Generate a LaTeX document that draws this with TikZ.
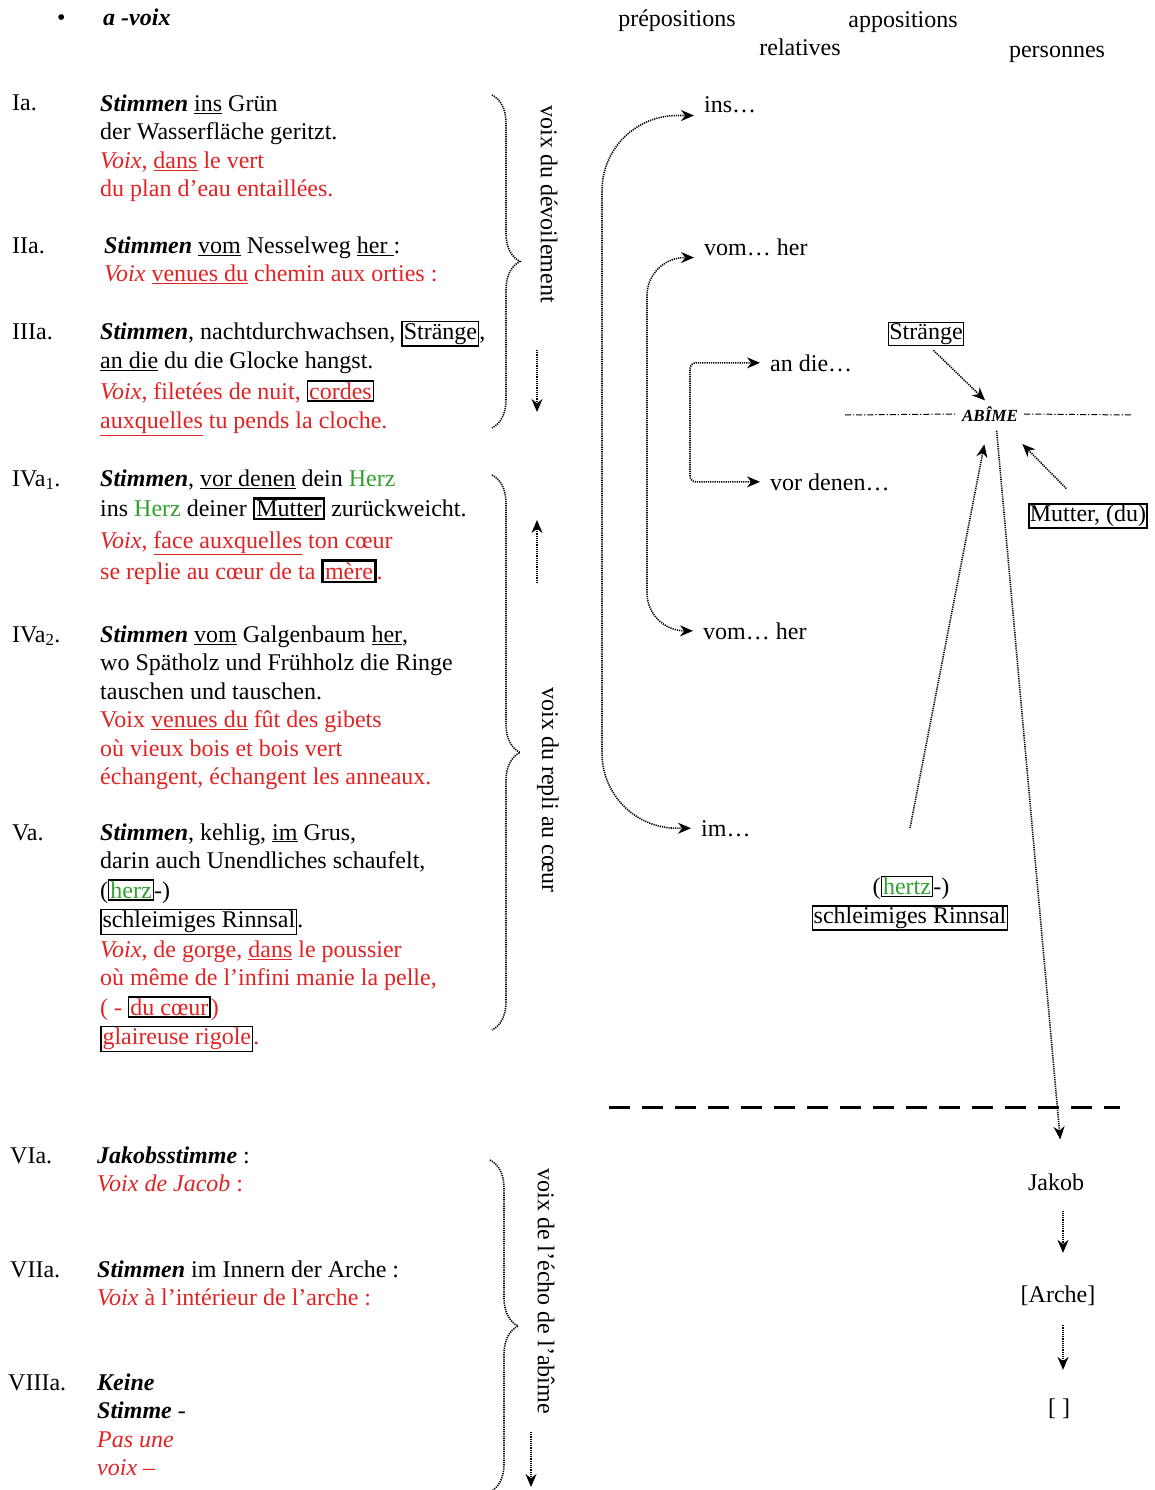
\documentclass[tikz,border=0pt]{standalone}
\usepackage{fontspec}
\setmainfont{Liberation Serif}
\usepackage{xcolor}
\usetikzlibrary{arrows.meta,decorations.pathreplacing}

\definecolor{vred}{RGB}{225,35,35}
\definecolor{vgreen}{RGB}{50,160,50}
\newcommand{\bi}[1]{\textbf{\textit{#1}}}
\newcommand{\fr}[1]{\textcolor{vred}{#1}}
\newcommand{\boxw}[2][black]{{\setlength{\fboxsep}{1pt}\setlength{\fboxrule}{1.3pt}\color{black}\fbox{\color{#1}#2}}}
\newcommand{\boxwb}[2][black]{{\setlength{\fboxsep}{1pt}\setlength{\fboxrule}{2.6pt}\color{black}\fbox{\color{#1}#2}}}

\begin{document}
\begin{tikzpicture}[x=1pt, y=-1pt,
  every node/.style={inner sep=3pt},
  font=\fontsize{24}{28.5}\selectfont,
  lbl/.style={anchor=base west, inner sep=0pt},
  stanza/.style={anchor=north west, align=left, inner sep=0pt},
  colhead/.style={anchor=base, inner sep=0pt},
  rtxt/.style={anchor=base west, inner xsep=10pt, inner ysep=2pt},
  drehtext/.style={rotate=-90, inner sep=0pt},
  kasten/.style={draw, line width=1.3pt, inner sep=1pt},
  punkte/.style={line width=1.6pt, dash pattern=on 1.2pt off 1pt},
  klammer/.style={punkte, decorate, decoration={brace, amplitude=28pt}},
  pfeil/.style={punkte, -{Stealth[length=13pt, width=11pt]}},
  doppel/.style={punkte, {Stealth[length=13pt, width=11pt]}-{Stealth[length=13pt, width=11pt]}},
  strichpunkt/.style={line width=1pt, dash pattern=on 6pt off 2pt on 1.2pt off 2pt},
  trenn/.style={line width=3pt, dash pattern=on 21pt off 12pt}]
\useasboundingbox (0,0) rectangle (1155,1490);
\fill[white] (0,0) rectangle (1155,1490);

% title
\node[lbl] (bullet) at (57,26) {•};
\node[lbl] (titel) at (103,26) {\bi{a -voix}};

% left column: stanzas
\node[lbl] (l1) at (12,111) {Ia.};
\node[stanza] (s1) at (100,91) {\strut\bi{Stimmen} \underline{ins} Grün\\
der Wasserfläche geritzt.\\
\fr{\textit{Voix}, \underline{dans} le vert}\\
\fr{du plan d’eau entaillées.}};

\node[lbl] (l2) at (12,253) {IIa.};
\node[stanza] (s2) at (104,233) {\strut\bi{Stimmen} \underline{vom} Nesselweg \underline{her }:\\
\fr{\textit{Voix} \underline{venues du} chemin aux orties :}};

\node[lbl] (l3) at (12,339) {IIIa.};
\node[stanza] (s3) at (100,319) {\strut\bi{Stimmen}, nachtdurchwachsen, \boxw{Stränge},\\[1pt]
\underline{an die} du die Glocke hangst.\\[2pt]
\fr{\textit{Voix}, filetées de nuit, \boxw[vred]{cordes}}\\[1pt]
\fr{\underline{auxquelles} tu pends la cloche.}};

\node[lbl] (l41) at (12,486) {IVa\textsubscript{1}.};
\node[stanza] (s41) at (100,466) {\strut\bi{Stimmen}, \underline{vor denen} dein \textcolor{vgreen}{Herz}\\[2pt]
ins \textcolor{vgreen}{Herz} deiner \boxwb{Mutter} zurückweicht.\\[3pt]
\fr{\textit{Voix}, \underline{face auxquelles} ton cœur}\\[3pt]
\fr{se replie au cœur de ta \boxwb[vred]{mère}.}};

\node[lbl] (l42) at (12,642) {IVa\textsubscript{2}.};
\node[stanza] (s42) at (100,622) {\strut\bi{Stimmen} \underline{vom} Galgenbaum \underline{her},\\
wo Spätholz und Frühholz die Ringe\\
tauschen und tauschen.\\
\fr{Voix \underline{venues du} fût des gibets}\\
\fr{où vieux bois et bois vert}\\
\fr{échangent, échangent les anneaux.}};

\node[lbl] (l5) at (12,840) {Va.};
\node[stanza] (s5) at (100,820) {\strut\bi{Stimmen}, kehlig, \underline{im} Grus,\\
darin auch Unendliches schaufelt,\\[1pt]
(\boxw[vgreen]{herz}-)\\[1pt]
\boxw{schleimiges Rinnsal}.\\[1pt]
\fr{\textit{Voix}, de gorge, \underline{dans} le poussier}\\
\fr{où même de l’infini manie la pelle,}\\[1pt]
\fr{( - \boxw[vred]{du cœur})}\\[1pt]
\boxw[vred]{glaireuse rigole}\fr{.}};

\node[lbl] (l6) at (10,1163) {VIa.};
\node[stanza] (s6) at (97,1143) {\strut\bi{Jakobsstimme} :\\
\fr{\textit{Voix de Jacob} :}};

\node[lbl] (l7) at (10,1277) {VIIa.};
\node[stanza] (s7) at (97,1257) {\strut\bi{Stimmen} im Innern der Arche :\\
\fr{\textit{Voix} à l’intérieur de l’arche :}};

\node[lbl] (l8) at (8,1390) {VIIIa.};
\node[stanza] (s8) at (97,1370) {\strut\bi{Keine}\\
\bi{Stimme} -\\
\fr{\textit{Pas une}}\\
\fr{\textit{voix –}}};

% braces and rotated labels
\draw[klammer] (492,95) -- (492,428);
\draw[klammer] (492,475) -- (492,1030);
\draw[klammer] (490,1160) -- (490,1492);
\node[drehtext] (devoil) at (549,204) {voix du dévoilement};
\node[drehtext] (repli) at (548,790) {voix du repli au cœur};
\node[drehtext] (echo) at (546,1291) {voix de l’écho de l’abîme};
\coordinate (d1a) at (537,350);
\coordinate (d1b) at (537,412);
\coordinate (r1a) at (537,583);
\coordinate (r1b) at (537,520);
\coordinate (e1a) at (531,1432);
\coordinate (e1b) at (531,1487);
\draw[pfeil] (d1a) -- (d1b);
\draw[pfeil] (r1a) -- (r1b);
\draw[pfeil] (e1a) -- (e1b);

% column heads
\node[colhead] (praep) at (677,27) {prépositions};
\node[colhead] (appos) at (903,28) {appositions};
\node[colhead] (relat) at (800,56) {relatives};
\node[colhead] (perso) at (1057,58) {personnes};

% prepositions and relatives
\node[rtxt] (ins) at (694,113) {ins…};
\node[rtxt] (vom1) at (694,255) {vom… her};
\node[rtxt] (andie) at (760,371) {an die…};
\node[rtxt] (vordenen) at (760,490) {vor denen…};
\node[rtxt] (vom2) at (693,639) {vom… her};
\node[rtxt] (im) at (691,836) {im…};
\draw[doppel, rounded corners=75pt] (ins.south west) -| (602,470) |- (im.west);
\draw[doppel, rounded corners=38pt] (vom1.south west) -| (647,450) |- (vom2.west);
\draw[doppel, rounded corners=6pt] (andie.west) -| (690,430) |- (vordenen.west);

% persons and the abyss
\node[kasten] (straenge) at (926,334) {Stränge};
\node[inner sep=6pt, font=\fontsize{17}{20}\selectfont\bfseries\itshape] (abime) at (990,414) {ABÎME};
\node[kasten, line width=2.6pt] (mutter) at (1088,516) {Mutter, (du)};
\node[inner sep=0pt] (hertz) at (911,888) {(\boxw[vgreen]{hertz}-)};
\node[kasten] (rinnsal) at (910,918) {schleimiges Rinnsal};
\coordinate (abl) at (845,415);
\coordinate (abr) at (1132,415);
\coordinate (rinnsaltop) at (910,828);
\draw[strichpunkt] (abl) -- (abime.west);
\draw[strichpunkt] (abime.east) -- (abr);
\draw[pfeil, shorten <=6pt] (straenge.-75) -- (abime.110);
\draw[pfeil, shorten <=20pt, shorten >=23pt] (mutter.120) -- (abime.-40);
\draw[pfeil, shorten >=17pt] (rinnsaltop) -- (abime.-100);

% separation
\draw[trenn] (609,1107) -- (1120,1107);

\node (jakob) at (1056,1182) {Jakob};
\node (arche) at (1058,1296) {[Arche]};
\node (leer) at (1059,1409) {[ ]};
\draw[pfeil, shorten <=3pt, shorten >=31pt] (abime.-65) -- ([xshift=7pt]jakob.north);
\draw[pfeil, shorten <=17pt, shorten >=30pt] ([xshift=7pt]jakob.south) -- ([xshift=5pt]arche.north);
\draw[pfeil, shorten <=16pt, shorten >=26pt] ([xshift=5pt]arche.south) -- ([xshift=4pt]leer.north);
\end{tikzpicture}
\end{document}
